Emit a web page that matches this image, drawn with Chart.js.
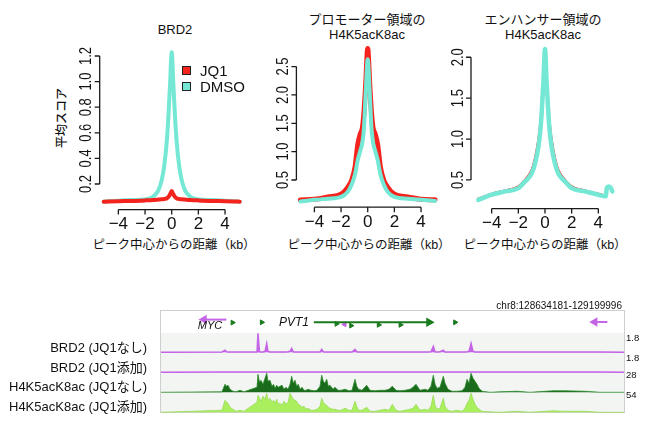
<!DOCTYPE html>
<html>
<head>
<meta charset="utf-8">
<script src="https://cdn.jsdelivr.net/npm/chart.js@4.4.1/dist/chart.umd.min.js"></script>
<style>
body { margin: 0; background: #fff; width: 650px; height: 428px; position: relative; overflow: hidden;
       font-family: "Liberation Sans", "Noto Sans CJK JP", sans-serif; color: #111; }
canvas { position: absolute; }
.t { position: absolute; white-space: nowrap; line-height: 1; }
.c { transform: translate(-50%, -50%); text-align: center; }
.r { transform: translate(-100%, -50%); }
.l { transform: translate(0, -50%); }
.sq { position: absolute; width: 7px; height: 7px; border: 1px solid #222; }
</style>
</head>
<body>

<!-- top panels -->
<div class="t c" style="left:175px;top:29px;font-size:13px">BRD2</div>
<div class="t c" style="left:367px;top:27px;font-size:13px;line-height:15px">プロモーター領域の<br>H4K5acK8ac</div>
<div class="t c" style="left:543px;top:27px;font-size:13px;line-height:15px">エンハンサー領域の<br>H4K5acK8ac</div>
<div class="t c" style="left:62px;top:118px;font-size:12px;font-weight:500;transform:translate(-50%,-50%) rotate(-90deg)">平均スコア</div>
<div class="t c" style="left:174px;top:245px;font-size:12.5px">ピーク中心からの距離（kb）</div>
<div class="t c" style="left:369px;top:245px;font-size:12.5px">ピーク中心からの距離（kb）</div>
<div class="t c" style="left:545px;top:245px;font-size:12.5px">ピーク中心からの距離（kb）</div>

<canvas id="brd2" width="250" height="260" style="left:0;top:0"></canvas>
<canvas id="prom" width="230" height="260" style="left:215px;top:0"></canvas>
<canvas id="enh" width="220" height="260" style="left:430px;top:0"></canvas>

<div class="sq" style="left:182px;top:66px;background:#f5231e"></div>
<div class="sq" style="left:182px;top:82px;background:#74e8d4"></div>
<div class="t l" style="left:200px;top:70px;font-size:15px">JQ1</div>
<div class="t l" style="left:200px;top:86px;font-size:15px">DMSO</div>

<!-- browser tracks -->
<div class="t r" style="left:622px;top:306px;font-size:10px;transform:translate(-100%,-50%)">chr8:128634181-129199996</div>
<div style="position:absolute;left:161px;top:333px;width:463px;height:79px;background:#f3f5f3"></div>
<div style="position:absolute;left:160px;top:310px;width:465px;height:103px;border:1px solid #cfcfcf;box-sizing:border-box"></div>

<canvas id="genes" width="463" height="22" style="left:161px;top:311px"></canvas>
<canvas id="trk1" width="463" height="20" style="left:161px;top:333px"></canvas>
<canvas id="trk2" width="463" height="20" style="left:161px;top:353px"></canvas>
<canvas id="trk3" width="463" height="20" style="left:161px;top:373px"></canvas>
<canvas id="trk4" width="463" height="20" style="left:161px;top:393px"></canvas>

<div class="t c" style="left:210px;top:325px;font-size:11px;font-style:italic">MYC</div>
<div class="t c" style="left:294px;top:322px;font-size:12px;font-style:italic">PVT1</div>

<div class="t r" style="left:147px;top:347px;font-size:13px">BRD2 (JQ1なし)</div>
<div class="t r" style="left:147px;top:367px;font-size:13px">BRD2 (JQ1添加)</div>
<div class="t r" style="left:147px;top:386px;font-size:13px">H4K5acK8ac (JQ1なし)</div>
<div class="t r" style="left:147px;top:406px;font-size:13px">H4K5acK8ac (JQ1添加)</div>

<div class="t l" style="left:626px;top:338px;font-size:9.5px">1.8</div>
<div class="t l" style="left:626px;top:358px;font-size:9.5px">1.8</div>
<div class="t l" style="left:626px;top:375px;font-size:9.5px">28</div>
<div class="t l" style="left:626px;top:395px;font-size:9.5px">54</div>

<script>
// profile plots: distance from peak centre (kb) and mean score
const xTickVals = [-4, -2, 0, 2, 4];

const brd2Kb   = [-5.1, -4, -3, -2, -1.4, -1.0, -0.75, -0.57, -0.38, -0.25, -0.12, 0, 0.12, 0.25, 0.38, 0.57, 0.75, 1.0, 1.4, 2, 3, 4, 4.6, 5.1];
const brd2Dmso = [0.062, 0.07, 0.075, 0.08, 0.10, 0.15, 0.23, 0.335, 0.52, 0.725, 0.99, 1.23, 0.99, 0.725, 0.52, 0.335, 0.23, 0.15, 0.10, 0.08, 0.075, 0.07, 0.066, 0.062];
const brd2Jq1  = [0.062, 0.066, 0.068, 0.072, 0.075, 0.078, 0.08, 0.083, 0.088, 0.098, 0.12, 0.145, 0.12, 0.098, 0.088, 0.083, 0.08, 0.078, 0.075, 0.072, 0.068, 0.066, 0.064, 0.062];
const brd2YTicks = [0.2, 0.4, 0.6, 0.8, 1.0, 1.2];

const promKb   = [-5.05, -4, -3, -2, -1.5, -1.2, -0.95, -0.75, -0.55, -0.4, -0.28, -0.15, 0, 0.15, 0.28, 0.4, 0.55, 0.75, 0.95, 1.2, 1.5, 2, 3, 4, 5.05];
const promJq1  = [0.147, 0.16, 0.2, 0.25, 0.37, 0.5, 0.73, 1.12, 1.32, 1.42, 1.7, 2.2, 2.82, 2.2, 1.7, 1.42, 1.32, 1.12, 0.73, 0.5, 0.37, 0.25, 0.2, 0.16, 0.15];
const promDmso = [0.12, 0.15, 0.17, 0.2, 0.29, 0.42, 0.6, 0.85, 1.02, 1.16, 1.42, 2.05, 2.63, 2.05, 1.42, 1.16, 1.02, 0.85, 0.6, 0.42, 0.29, 0.2, 0.17, 0.15, 0.13];
const promYTicks = [0.5, 1.0, 1.5, 2.0, 2.5];

const enhKb   = [-5.0, -4, -3, -2, -1.5, -1, -0.75, -0.5, -0.35, -0.25, -0.12, 0, 0.12, 0.25, 0.35, 0.5, 0.75, 1, 1.5, 2, 3, 4, 4.55, 4.65, 4.8, 4.95, 5.05];
const enhDmso = [0.256, 0.32, 0.36, 0.4, 0.48, 0.58, 0.7, 0.9, 1.1, 1.32, 1.7, 2.1, 1.7, 1.32, 1.1, 0.9, 0.7, 0.58, 0.48, 0.4, 0.36, 0.32, 0.3, 0.41, 0.42, 0.4, 0.36];
const enhJq1  = [0.27, 0.33, 0.37, 0.42, 0.5, 0.62, 0.76, 0.98, 1.18, 1.35, 1.62, 1.88, 1.62, 1.35, 1.18, 0.98, 0.76, 0.62, 0.5, 0.42, 0.37, 0.33, 0.31, 0.41, 0.42, 0.4, 0.36];
const enhYTicks = [0.5, 1.0, 1.5, 2.0];

// browser tracks: kb from chr8:128634181
const trackKb = [
  0, 74.5, 78.2, 80.0, 81.9, 84.3, 88.0, 91.7, 96.5, 101.4,
  117.3, 118.5, 120.4, 122.2, 124.6, 127.1, 129.2, 130.7, 133.2, 135.6,
  137.5, 139.3, 141.4, 143.4, 145.4, 147.9, 150.3, 152.8, 155.2, 157.7,
  159.7, 161.7, 163.8, 165.8, 167.8, 169.9, 172.3, 174.8, 177.2, 179.6,
  183.3, 187.0, 190.6, 194.3, 196.4, 198.3, 200.4, 202.5, 204.5, 206.5,
  210.2, 212.6, 216.3, 220.0, 224.9, 229.8, 233.4, 237.1, 239.2, 241.4,
  245.6, 251.4, 255.4, 261.5, 267.6, 273.7, 278.6, 282.7, 287.2, 292.1,
  298.2, 304.3, 308.0, 311.6, 316.5, 322.6, 326.3, 329.9, 332.8, 334.9,
  337.3, 340.9, 345.0, 347.1, 350.7, 355.6, 361.4, 367.9, 371.5, 374.0,
  376.4, 378.9, 381.3, 383.8, 386.2, 388.6, 392.3, 402.1, 414.3, 434.7,
  451.0, 479.1, 493.7, 518.2, 536.5, 565.8
];
const brd2NoJq1Track = [
  0, 0.03, 0.19, 0.05, 0.03, 0.03, 0.03, 0.03, 0.03, 0.03,
  0.03, 1.77, 0.05, 0.03, 0.03, 0.09, 0.84, 0.09, 0.03, 0.03,
  0.03, 0.03, 0.03, 0.03, 0.03, 0.03, 0.03, 0.03, 0.05, 0.09,
  0.37, 0.05, 0.03, 0.03, 0.03, 0.03, 0.03, 0.03, 0.03, 0.03,
  0.03, 0.03, 0.03, 0.03, 0.28, 0.05, 0.03, 0.03, 0.03, 0.03,
  0.03, 0.03, 0.03, 0.03, 0.03, 0.03, 0.03, 0.28, 0.05, 0.03,
  0.03, 0.03, 0.03, 0.03, 0.03, 0.03, 0.03, 0.03, 0.03, 0.03,
  0.03, 0.03, 0.03, 0.03, 0.03, 0.03, 0.03, 0.05, 0.56, 0.05,
  0.03, 0.05, 0.19, 0.03, 0.03, 0.03, 0.03, 0.03, 0.03, 0.05,
  0.09, 0.84, 0.09, 0.03, 0.03, 0.03, 0.03, 0.03, 0.03, 0.03,
  0.03, 0.03, 0.03, 0.03, 0.03, 0
];
const brd2Jq1Track = [
  0, 0.02, 0.02, 0.02, 0.02, 0.02, 0.02, 0.02, 0.02, 0.02,
  0.02, 0.02, 0.02, 0.02, 0.02, 0.02, 0.02, 0.02, 0.02, 0.02,
  0.02, 0.02, 0.02, 0.02, 0.02, 0.02, 0.02, 0.02, 0.02, 0.02,
  0.02, 0.02, 0.02, 0.02, 0.02, 0.02, 0.02, 0.02, 0.02, 0.02,
  0.02, 0.02, 0.02, 0.02, 0.02, 0.02, 0.02, 0.02, 0.02, 0.02,
  0.02, 0.02, 0.02, 0.02, 0.02, 0.02, 0.02, 0.02, 0.02, 0.02,
  0.02, 0.02, 0.02, 0.02, 0.02, 0.02, 0.02, 0.02, 0.02, 0.02,
  0.02, 0.02, 0.02, 0.02, 0.02, 0.02, 0.02, 0.02, 0.02, 0.02,
  0.02, 0.02, 0.02, 0.02, 0.02, 0.02, 0.02, 0.02, 0.02, 0.02,
  0.02, 0.02, 0.02, 0.02, 0.02, 0.02, 0.02, 0.02, 0.02, 0.02,
  0.02, 0.02, 0.02, 0.02, 0.02, 0
];
const h4NoJq1Track = [
  0, 0.7, 11.6, 8.7, 10.2, 4.4, 1.5, 0.7, 2.9, 0.7,
  7.3, 26.1, 14.5, 17.4, 11.6, 20.3, 27.6, 16.0, 17.4, 8.7,
  11.6, 5.8, 10.2, 7.3, 8.7, 10.2, 4.4, 7.3, 4.4, 11.6,
  23.2, 13.1, 17.4, 8.7, 11.6, 4.4, 7.3, 2.9, 2.9, 4.4,
  2.9, 2.2, 2.9, 8.7, 24.7, 16.0, 13.1, 18.9, 8.7, 10.2,
  4.4, 7.3, 2.9, 2.9, 4.4, 2.2, 2.9, 18.9, 8.7, 4.4,
  2.9, 10.2, 2.9, 2.2, 2.9, 2.9, 4.4, 8.7, 2.9, 2.2,
  2.9, 4.4, 7.3, 11.6, 2.9, 4.4, 2.9, 8.7, 24.7, 11.6,
  5.8, 7.3, 23.2, 13.1, 4.4, 1.5, 1.5, 2.2, 7.3, 18.9,
  13.1, 27.6, 20.3, 16.0, 11.6, 5.8, 1.5, 0, 0.7, 1.5,
  0, 2.2, 2.2, 1.5, 0, 0
];
const h4Jq1Track = [
  0, 5.6, 33.6, 28.0, 25.2, 14.0, 8.4, 2.8, 5.6, 2.8,
  28.0, 47.6, 39.2, 30.8, 44.8, 36.4, 53.2, 33.6, 39.2, 28.0,
  33.6, 25.2, 36.4, 22.4, 25.2, 19.6, 30.8, 22.4, 28.0, 53.2,
  44.8, 36.4, 33.6, 30.8, 22.4, 19.6, 14.0, 16.8, 8.4, 11.2,
  5.6, 5.6, 8.4, 16.8, 39.2, 28.0, 22.4, 19.6, 14.0, 11.2,
  8.4, 8.4, 5.6, 5.6, 11.2, 5.6, 5.6, 30.8, 16.8, 5.6,
  5.6, 14.0, 2.8, 2.8, 5.6, 8.4, 5.6, 22.4, 5.6, 2.8,
  5.6, 8.4, 11.2, 22.4, 5.6, 8.4, 5.6, 16.8, 47.6, 19.6,
  8.4, 11.2, 39.2, 16.8, 5.6, 2.8, 5.6, 2.8, 11.2, 25.2,
  33.6, 53.2, 36.4, 22.4, 14.0, 8.4, 2.8, 1.4, 0, 2.8,
  0, 4.2, 2.8, 2.8, 0, 0
];

// gene annotation (kb, row)
const mycKb = [46.4, 74.5];          const mycRow = [5.7, 5.7];
const pvt1Kb = [184.2, 328.7];       const pvt1Row = [11.7, 11.7];
const rightGeneKb = [536.5, 552.4];  const rightGeneRow = [11, 11];
const fwdMarkKb = [82.2, 118.9, 212.6, 231.0, 265.6, 292.9, 361.4];
const fwdMarkRow = [12.3, 11.7, 15, 19, 17.3, 17.3, 11.7];
const revMarkKb = [222.8];           const revMarkRow = [16.3];

const RED = '#f5231e', CYAN = '#74e8d4', PURPLE = '#c464e6', GREEN = '#1a7a1e', DKGREEN = '#1b6b1c', LTGREEN = '#aaef5e';

const pts = (xs, ys) => xs.map((x, i) => ({ x: x, y: ys[i] }));

// R style axes: line only between first and last tick
const rAxes = {
    id: 'rAxes',
    afterDraw(chart, args, opts) {
        const { ctx, chartArea, scales: { x, y } } = chart;
        const x0 = chartArea.left, y0 = chartArea.bottom;
        const yt = opts.yTicks, xt = opts.xTicks;
        ctx.save();
        ctx.strokeStyle = '#1a1a1a';
        ctx.lineWidth = 1.3;
        ctx.beginPath();
        ctx.moveTo(x0, y.getPixelForValue(yt[0]));
        ctx.lineTo(x0, y.getPixelForValue(yt[yt.length - 1]));
        yt.forEach(v => { const p = y.getPixelForValue(v); ctx.moveTo(x0, p); ctx.lineTo(x0 - 5, p); });
        ctx.moveTo(x.getPixelForValue(xt[0]), y0);
        ctx.lineTo(x.getPixelForValue(xt[xt.length - 1]), y0);
        xt.forEach(v => { const p = x.getPixelForValue(v); ctx.moveTo(p, y0); ctx.lineTo(p, y0 + 5); });
        ctx.stroke();
        ctx.fillStyle = '#111';
        ctx.font = '17px "Liberation Sans"';
        ctx.textAlign = 'center';
        ctx.textBaseline = 'middle';
        yt.forEach(v => {
            ctx.save();
            ctx.translate(x0 - 13, y.getPixelForValue(v));
            ctx.rotate(-Math.PI / 2);
            ctx.scale(0.76, 1);
            ctx.fillText(v.toFixed(1), 0, 0);
            ctx.restore();
        });
        xt.forEach(v => ctx.fillText(String(v).replace('-', '\u2212'), x.getPixelForValue(v), y0 + 15));
        ctx.restore();
    }
};

function profile(id, pad, xr, yr, sets, yTicks) {
    new Chart(document.getElementById(id), {
        type: 'line',
        data: {
            datasets: sets.map(s => ({
                data: pts(s.x, s.y),
                borderColor: s.color,
                borderWidth: s.w,
                pointRadius: 0,
                cubicInterpolationMode: 'monotone',
                borderCapStyle: 'round',
                borderJoinStyle: 'round',
                fill: false,
                clip: false
            }))
        },
        options: {
            responsive: false,
            animation: false,
            events: [],
            layout: { padding: pad },
            plugins: { legend: { display: false }, tooltip: { enabled: false }, rAxes: { xTicks: xTickVals, yTicks: yTicks } },
            scales: {
                x: { type: 'linear', display: false, min: xr[0], max: xr[1] },
                y: { type: 'linear', display: false, min: yr[0], max: yr[1] }
            }
        },
        plugins: [rAxes]
    });
}

profile('brd2', { left: 99.7, right: 6.3, top: 43.2, bottom: 50.4 }, [-5.4, 5.4], [0, 1.3], [
    { x: brd2Kb, y: brd2Jq1, color: RED, w: 4 },
    { x: brd2Kb, y: brd2Dmso, color: CYAN, w: 4 }
], brd2YTicks);

profile('prom', { left: 81.4, right: 5.3, top: 41.1, bottom: 52.8 }, [-5.35, 5.4], [0.02, 2.95], [
    { x: promKb, y: promDmso, color: CYAN, w: 4 },
    { x: promKb, y: promJq1, color: RED, w: 5 }
], promYTicks);

profile('enh', { left: 41, right: 33, top: 40.9, bottom: 51.4 }, [-5.55, 5.4], [0.15, 2.2], [
    { x: enhKb, y: enhDmso, color: CYAN, w: 4.5 },
    { x: enhKb, y: enhJq1, color: RED, w: 2.5 }
], enhYTicks);

function track(id, ys, yr, line, fillColor, w) {
    new Chart(document.getElementById(id), {
        type: 'line',
        data: {
            datasets: [{
                data: pts(trackKb, ys),
                borderColor: line,
                backgroundColor: fillColor,
                borderWidth: w,
                pointRadius: 0,
                tension: 0,
                fill: 'origin',
                clip: false
            }]
        },
        options: {
            responsive: false,
            animation: false,
            events: [],
            layout: { padding: 0 },
            plugins: { legend: { display: false }, tooltip: { enabled: false } },
            scales: {
                x: { type: 'linear', display: false, min: 0, max: 565.8 },
                y: { type: 'linear', display: false, min: yr[0], max: yr[1] }
            }
        }
    });
}

track('trk1', brd2NoJq1Track, [-0.065, 1.8], PURPLE, PURPLE, 1.5);
track('trk2', brd2Jq1Track, [-0.065, 1.8], PURPLE, PURPLE, 1.5);
track('trk3', h4NoJq1Track, [-1.0, 28], '#2a8a2b', DKGREEN, 0.8);
track('trk4', h4Jq1Track, [-1.96, 54], '#98dc55', LTGREEN, 0.8);

new Chart(document.getElementById('genes'), {
    type: 'line',
    data: {
        datasets: [
            { data: pts(mycKb, mycRow), borderColor: PURPLE, backgroundColor: PURPLE, borderWidth: 2,
              pointStyle: 'triangle', pointRadius: [3.5, 0], pointRotation: -90, clip: false },
            { data: pts(pvt1Kb, pvt1Row), borderColor: GREEN, backgroundColor: GREEN, borderWidth: 2,
              pointStyle: 'triangle', pointRadius: [0, 3.5], pointRotation: 90, clip: false },
            { data: pts(rightGeneKb, rightGeneRow), borderColor: PURPLE, backgroundColor: PURPLE, borderWidth: 2,
              pointStyle: 'triangle', pointRadius: [3.5, 0], pointRotation: -90, clip: false },
            { data: pts(fwdMarkKb, fwdMarkRow), showLine: false, borderColor: GREEN, backgroundColor: GREEN, borderWidth: 1,
              pointStyle: 'triangle', pointRadius: 2.8, pointRotation: 90, clip: false },
            { data: pts(revMarkKb, revMarkRow), showLine: false, borderColor: PURPLE, backgroundColor: PURPLE, borderWidth: 1,
              pointStyle: 'triangle', pointRadius: 2.8, pointRotation: -90, clip: false }
        ]
    },
    options: {
        responsive: false,
        animation: false,
        events: [],
        layout: { padding: 0 },
        plugins: { legend: { display: false }, tooltip: { enabled: false } },
        scales: {
            x: { type: 'linear', display: false, min: 0, max: 565.8 },
            y: { type: 'linear', display: false, reverse: true, min: 0, max: 22 }
        }
    }
});
</script>
</body>
</html>
